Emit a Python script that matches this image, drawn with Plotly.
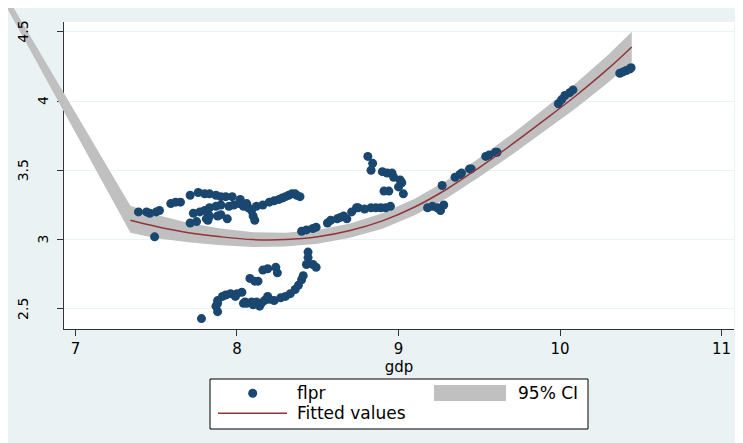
import plotly.graph_objects as go

# ---------------- data ----------------
flpr_x = [7.39, 7.44, 7.46, 7.50, 7.52, 7.59, 7.62, 7.65, 7.71, 7.76, 7.80, 7.83, 7.87, 7.90, 7.93, 7.97,
          8.02, 8.06, 8.12, 8.16, 8.20, 8.23, 8.26, 8.28, 8.30, 8.32, 8.34, 8.36, 8.37, 8.39,
          7.73, 7.77, 7.80, 7.83, 7.87, 7.90, 7.95, 7.98, 8.01, 8.04, 8.07, 8.09, 8.10, 8.11,
          7.71, 7.75, 7.82, 7.88, 7.94, 7.49, 7.81, 7.83, 7.90,
          7.78, 7.88, 7.87, 7.88, 7.91, 7.93, 7.96, 8.03, 8.04, 8.06, 8.09, 8.12, 8.15, 8.14, 8.17,
          8.19, 8.23, 8.27, 8.30, 8.33, 8.36, 8.38, 8.40, 8.41, 8.43, 8.44, 8.44, 8.47, 8.49,
          8.08, 8.11, 8.13, 8.16, 8.19, 8.24, 8.25, 7.88, 7.99, 8.00, 8.20, 8.10, 8.05,
          8.40, 8.43, 8.47, 8.49, 8.56, 8.58, 8.62, 8.64, 8.66, 8.68, 8.71, 8.74, 8.75, 8.79,
          8.83, 8.86, 8.89, 8.92, 8.95,
          8.81, 8.84, 8.83, 8.90, 8.93, 8.96, 8.97, 9.01, 9.02, 9.00, 8.94, 8.91, 9.03,
          9.18, 9.21, 9.24, 9.26, 9.28, 9.27, 9.35, 9.38, 9.39, 9.44, 9.45, 9.54, 9.56, 9.60, 9.61,
          9.99, 10.01, 10.03, 10.06, 10.08, 10.37, 10.39, 10.41, 10.43, 10.44]
flpr_y = [3.20, 3.20, 3.19, 3.20, 3.21, 3.26, 3.27, 3.27, 3.32, 3.34, 3.33, 3.33, 3.32, 3.31, 3.31, 3.31,
          3.29, 3.26, 3.24, 3.25, 3.27, 3.28, 3.29, 3.30, 3.31, 3.32, 3.33, 3.33, 3.32, 3.31,
          3.19, 3.20, 3.21, 3.23, 3.24, 3.25, 3.24, 3.25, 3.26, 3.24, 3.23, 3.21, 3.17, 3.14,
          3.12, 3.13, 3.14, 3.17, 3.15, 3.02, 3.15, 3.17, 3.18,
          2.43, 2.48, 2.52, 2.56, 2.59, 2.60, 2.61, 2.62, 2.54, 2.54, 2.55, 2.55, 2.54, 2.52, 2.56,
          2.59, 2.56, 2.58, 2.59, 2.61, 2.64, 2.67, 2.71, 2.74, 2.82, 2.87, 2.91, 2.82, 2.80,
          2.72, 2.70, 2.70, 2.78, 2.79, 2.80, 2.76, 2.54, 2.59, 2.61, 2.57, 2.53, 2.55,
          3.06, 3.07, 3.08, 3.09, 3.12, 3.14, 3.15, 3.16, 3.17, 3.15, 3.20, 3.23, 3.23, 3.22,
          3.23, 3.23, 3.23, 3.23, 3.24,
          3.60, 3.55, 3.50, 3.49, 3.48, 3.48, 3.45, 3.43, 3.41, 3.38, 3.35, 3.35, 3.33,
          3.23, 3.24, 3.23, 3.21, 3.25, 3.39, 3.45, 3.47, 3.48, 3.51, 3.51, 3.60, 3.61, 3.63, 3.63,
          3.98, 4.01, 4.04, 4.06, 4.08, 4.20, 4.21, 4.22, 4.23, 4.24]

fit_x = [7.34, 7.5, 7.7, 7.9, 8.1, 8.3, 8.5, 8.7, 8.9, 9.1, 9.3, 9.5, 9.7, 9.9, 10.1, 10.3, 10.444]
fit_y = [3.14, 3.095, 3.05, 3.02, 3.00, 3.00, 3.02, 3.065, 3.135, 3.235, 3.365, 3.52, 3.685, 3.86,
         4.04, 4.235, 4.39]

ci_x = [6.515, 7.34, 7.5, 7.7, 7.9, 8.1, 8.3, 8.5, 8.7, 8.9, 9.1, 9.3, 9.5, 9.7, 9.9, 10.1, 10.3, 10.444]
ci_upper = [4.873, 3.245, 3.18, 3.12, 3.08, 3.053, 3.05, 3.07, 3.117, 3.191, 3.295, 3.429, 3.588,
            3.759, 3.942, 4.13, 4.335, 4.50]
ci_lower = [4.801, 3.05, 3.01, 2.98, 2.96, 2.947, 2.95, 2.97, 3.013, 3.079, 3.175, 3.301, 3.452,
            3.611, 3.778, 3.95, 4.135, 4.28]

x_ticks = [7, 8, 9, 10, 11]
y_ticks = [2.5, 3, 3.5, 4, 4.5]
y_tick_labels = ["2.5", "3", "3.5", "4", "4.5"]

# ---------------- layout geometry (page pixels) ----------------
W, H = 743, 443
OX, OY = 8, 8            # page offset of the figure (body margin)
PX0, PX1, PY0, PY1 = 64, 734, 22, 329
XR = [6.929, 11.077]
YR = [2.355, 4.570]
sx = (XR[1] - XR[0]) / (PX1 - PX0)
sy = (YR[1] - YR[0]) / (PY1 - PY0)
X2R = [XR[0] - (PX0 - OX) * sx, XR[0] + (W - (PX0 - OX)) * sx]
Y2R = [YR[0] - (H - (PY1 - OY)) * sy, YR[1] + (PY0 - OY) * sy]

NAVY = "#1a476f"
MAROON = "#90353b"
GRAY = "#c0c0c0"
BG = "#eaf2f3"
FONT = "DejaVu Sans"


def px(xp):
    return (xp - OX) / W


def py(yp):
    return 1 - (yp - OY) / H


fig = go.Figure()
fig.add_trace(go.Scatter(x=[], y=[], xaxis="x", yaxis="y", showlegend=False, hoverinfo="skip"))

band_x = ci_x + ci_x[::-1]
band_y = ci_upper + ci_lower[::-1]
fig.add_trace(go.Scatter(x=band_x, y=band_y, xaxis="x2", yaxis="y2", fill="toself",
                         fillcolor=GRAY, line=dict(width=0), mode="lines",
                         name="95% CI", showlegend=False, hoverinfo="skip"))
fig.add_trace(go.Scatter(x=flpr_x, y=flpr_y, xaxis="x2", yaxis="y2", mode="markers",
                         marker=dict(size=9, color=NAVY, line=dict(width=0)),
                         name="flpr", showlegend=False))
fig.add_trace(go.Scatter(x=fit_x, y=fit_y, xaxis="x2", yaxis="y2", mode="lines",
                         line=dict(color=MAROON, width=1.5, shape="spline"),
                         name="Fitted values", showlegend=False))

shapes = [
    dict(type="rect", xref="paper", yref="paper", x0=px(PX0), x1=px(PX1), y0=py(PY1), y1=py(PY0),
         fillcolor="white", line=dict(width=0), layer="below"),
    dict(type="rect", xref="paper", yref="paper", x0=px(210), x1=px(588), y0=py(429), y1=py(379),
         fillcolor="white", line=dict(color="black", width=1)),
    dict(type="circle", xref="paper", yref="paper", x0=px(248.2), x1=px(257.2), y0=py(397.8),
         y1=py(388.8), fillcolor=NAVY, line=dict(width=0)),
    dict(type="rect", xref="paper", yref="paper", x0=px(434), x1=px(506), y0=py(401), y1=py(385),
         fillcolor=GRAY, line=dict(width=0)),
    dict(type="line", xref="paper", yref="paper", x0=px(218), x1=px(287), y0=py(413.3),
         y1=py(413.3), line=dict(color=MAROON, width=1.5)),
]

annotations = [
    dict(text="flpr", xref="paper", yref="paper", x=px(295), y=py(393), xanchor="left",
         yanchor="middle", showarrow=False, font=dict(family=FONT, size=17, color="black")),
    dict(text="95% CI", xref="paper", yref="paper", x=px(516), y=py(393), xanchor="left",
         yanchor="middle", showarrow=False, font=dict(family=FONT, size=17, color="black")),
    dict(text="Fitted values", xref="paper", yref="paper", x=px(295), y=py(413), xanchor="left",
         yanchor="middle", showarrow=False, font=dict(family=FONT, size=17, color="black")),
]
for v, lab in zip(y_ticks, y_tick_labels):
    ypix = PY1 - (v - YR[0]) / sy
    xpix = 43 if len(lab) == 1 else 23
    annotations.append(dict(text=lab, xref="paper", yref="paper", x=px(xpix), y=py(ypix),
                            xanchor="center", yanchor="middle", textangle=-90, showarrow=False,
                            font=dict(family=FONT, size=14, color="black")))

fig.update_layout(
    width=W, height=H,
    margin=dict(l=0, r=0, t=0, b=0),
    paper_bgcolor=BG,
    plot_bgcolor="rgba(0,0,0,0)",
    showlegend=False,
    font=dict(family=FONT, size=15, color="black"),
    xaxis=dict(domain=[px(PX0), px(PX1)], range=XR, anchor="y", tickvals=x_ticks,
               ticks="outside", ticklen=6, tickcolor="#333333", showline=True,
               linecolor="#333333", linewidth=1, showgrid=False, zeroline=False,
               tickfont=dict(family=FONT, size=15, color="black"),
               title=dict(text="gdp", font=dict(family=FONT, size=15, color="black"), standoff=2)),
    yaxis=dict(domain=[py(PY1), py(PY0)], range=YR, anchor="x", tickvals=y_ticks,
               showticklabels=False, ticks="outside", ticklen=6, tickcolor="#333333",
               showline=True, linecolor="#333333", linewidth=1, showgrid=True,
               gridcolor=BG, gridwidth=1, zeroline=False),
    xaxis2=dict(domain=[0, 1], range=X2R, anchor="y2", visible=False, fixedrange=True),
    yaxis2=dict(domain=[0, 1], range=Y2R, anchor="x2", visible=False, fixedrange=True),
    shapes=shapes,
    annotations=annotations,
)

fig.write_html("out.html")
